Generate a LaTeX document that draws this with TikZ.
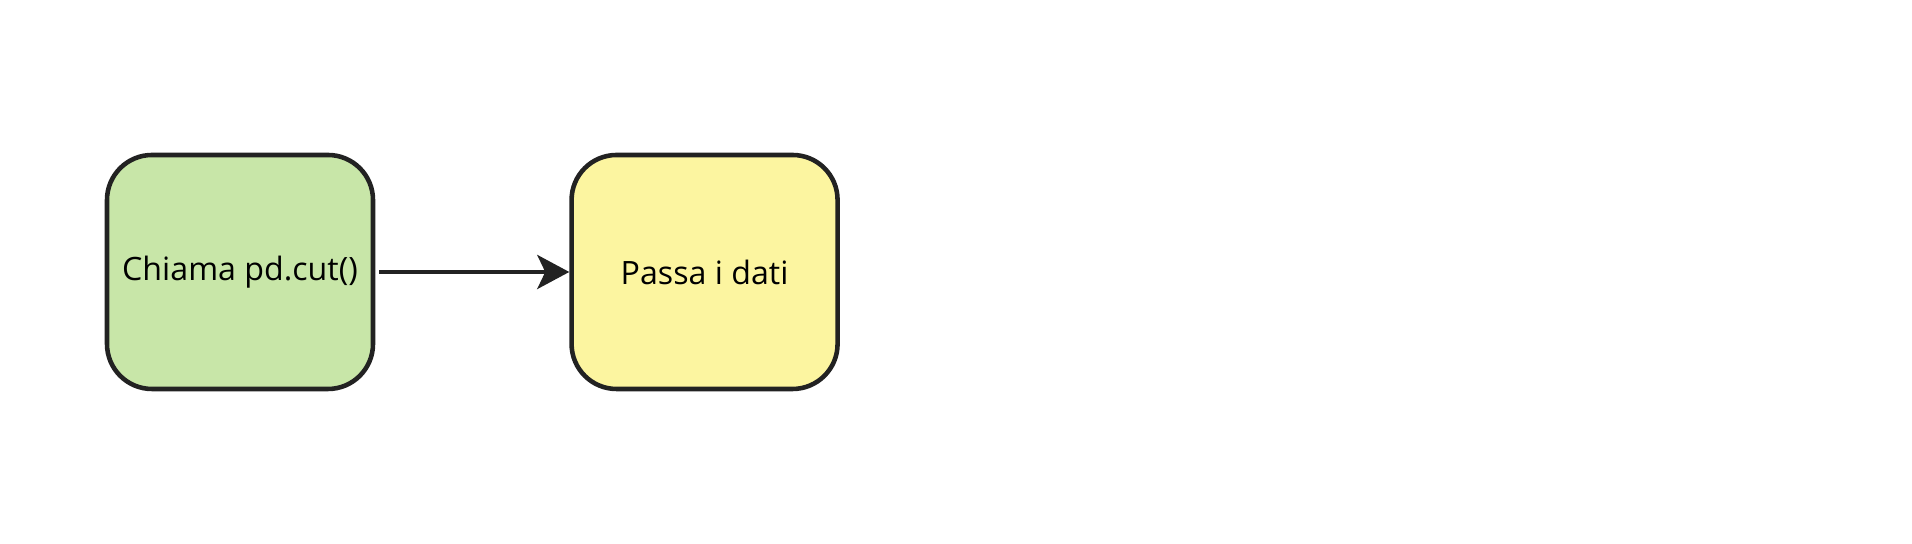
\documentclass[tikz,border=0pt]{standalone}
\usepackage{fontspec}
\setmainfont{Open Sans}
\usetikzlibrary{positioning,arrows.meta}
\definecolor{stepgreen}{HTML}{C8E6A8}
\definecolor{stepyellow}{HTML}{FCF5A0}
\definecolor{edgegray}{HTML}{222222}
\begin{document}
\begin{tikzpicture}
            [
                node distance     = 1.94cm,
                every node/.style = {shape=rectangle, rounded corners=0.45cm,
                draw=edgegray, line width=1.3pt, align=center,
                minimum width=2.66cm, minimum height=2.34cm,
                inner sep=0pt, font=\fontsize{9.15}{11}\selectfont},
                link/.style = {draw=edgegray, line width=1.2pt,
                -{Stealth[length=3.2mm, width=3.4mm, inset=0.8mm]}}
            ]
            \useasboundingbox (0,0) rectangle (19.12,5.44);
            \node [fill=stepgreen] (call) at (2.40,2.72) {Chiama pd.cut()};
            \node [fill=stepyellow, right=of call] (pass) {Passa i dati};
            \draw [link] ([xshift=0.4mm]call.east) -- (pass.west);
        \end{tikzpicture}
\end{document}
